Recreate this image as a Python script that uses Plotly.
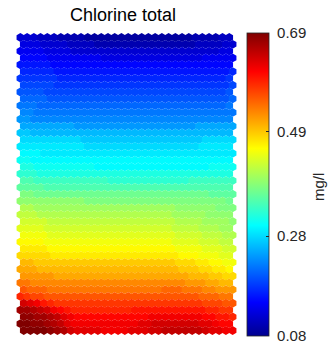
import plotly.graph_objects as go

# Component plane of a hexagonal SOM (44 rows x 32 columns), values in mg/l x 100.
# Each string is one map row, top row first.
ROWS = [
    "12 12 12 11 11 11 10 10 10 10 09 09 09 09 09 09 09 09 09 09 09 09 09 09 09 09 10 10 10 10 11 11",
    "13 13 13 12 12 12 12 11 11 11 11 10 10 10 10 10 10 10 10 10 10 10 10 10 10 10 11 11 11 11 12 12",
    "14 14 14 14 13 13 13 13 12 12 12 12 12 12 12 12 12 12 12 12 12 12 12 12 12 12 12 12 12 12 13 13",
    "15 15 15 15 14 14 14 14 14 14 14 14 13 13 13 13 13 13 13 13 13 13 13 13 13 13 13 14 14 14 14 14",
    "16 16 16 16 16 15 15 15 15 15 15 15 15 15 15 15 15 15 15 15 15 15 15 15 15 15 15 15 15 15 15 15",
    "17 17 17 17 17 16 16 16 16 16 16 16 16 16 16 16 16 16 16 16 16 16 16 16 16 16 16 16 16 16 16 17",
    "18 18 18 18 18 18 17 17 17 17 17 17 17 17 17 17 17 17 17 17 17 17 17 17 17 17 17 17 17 17 17 18",
    "19 19 19 19 19 18 18 18 18 18 18 18 18 18 18 18 18 18 18 18 18 18 18 18 18 18 18 18 18 18 18 19",
    "20 20 20 20 19 19 19 19 19 19 19 19 19 19 19 19 19 19 19 19 19 19 19 19 19 19 19 19 19 19 19 20",
    "21 21 21 21 20 20 20 20 20 20 20 20 20 20 20 20 20 20 20 20 20 20 20 20 20 20 20 20 20 20 20 21",
    "22 22 22 21 21 21 21 21 21 21 21 21 21 21 21 21 21 21 21 21 21 21 21 21 21 21 21 21 21 21 21 22",
    "23 23 22 22 22 22 22 22 22 22 22 22 22 22 22 22 22 22 22 22 22 22 22 22 22 22 22 22 22 22 22 22",
    "24 24 23 23 23 23 23 23 23 23 23 23 23 23 23 23 23 23 23 23 23 23 23 23 23 23 23 23 23 23 23 23",
    "25 25 25 25 25 25 25 25 24 24 24 24 24 24 24 24 24 24 24 24 24 24 24 24 24 24 25 25 25 25 25 25",
    "27 27 26 26 26 26 26 26 26 26 26 26 26 26 26 26 26 26 26 26 26 26 26 26 26 26 26 26 26 26 26 26",
    "28 28 28 28 28 28 28 28 28 27 27 27 27 27 27 27 27 27 27 27 27 27 27 27 27 27 27 28 28 28 28 28",
    "29 29 29 29 29 29 29 29 29 29 28 28 28 28 28 28 28 28 28 28 28 28 28 28 28 28 28 29 29 29 29 29",
    "30 30 30 29 29 29 29 29 29 29 29 29 29 29 29 29 29 29 29 29 29 29 29 29 29 29 29 29 29 29 29 29",
    "31 31 30 30 30 30 30 30 30 30 30 30 30 30 30 30 30 30 30 30 30 30 30 30 30 30 30 30 30 30 30 30",
    "32 32 31 31 31 31 31 31 31 31 31 30 30 30 30 30 30 30 30 30 30 30 30 30 30 30 30 30 31 31 31 31",
    "33 33 33 32 32 32 32 32 32 32 32 32 32 32 32 32 32 32 32 32 32 32 32 32 32 32 32 32 32 32 32 32",
    "35 35 34 34 34 34 34 34 34 34 34 34 34 33 33 33 33 33 33 33 33 33 33 33 33 34 34 34 34 34 34 34",
    "36 36 36 36 35 35 35 35 35 35 35 35 35 35 35 35 35 35 35 35 35 35 35 35 35 35 35 35 35 35 35 35",
    "38 38 37 37 37 37 37 37 37 37 37 37 37 37 37 37 37 37 37 37 37 37 37 37 37 37 37 37 36 36 36 36",
    "39 39 39 39 39 39 39 39 39 39 38 38 38 38 38 38 38 38 38 38 38 38 38 38 38 38 38 38 38 38 38 37",
    "41 41 40 40 40 40 40 40 40 40 40 40 40 40 40 40 40 40 40 40 40 40 40 39 39 39 39 39 39 38 38 38",
    "42 42 42 41 41 41 41 41 41 41 41 41 41 41 41 41 41 41 41 41 41 41 41 40 40 40 40 40 39 39 39 39",
    "43 43 43 43 42 42 42 42 42 42 42 42 42 42 42 42 42 42 42 42 42 42 42 41 41 41 41 40 40 40 40 39",
    "44 44 44 44 43 43 43 43 43 43 43 43 43 43 43 43 43 43 43 43 43 43 43 42 42 42 42 41 41 41 40 40",
    "45 45 45 45 44 44 44 44 44 44 44 44 44 44 44 44 44 44 44 44 44 44 44 43 43 43 43 42 42 42 41 41",
    "46 46 46 46 45 45 45 45 45 45 45 45 45 45 45 45 45 45 45 45 45 45 45 44 44 44 44 43 43 43 42 42",
    "47 47 47 47 46 46 46 46 46 46 46 46 46 46 46 46 46 46 46 46 46 46 46 45 45 45 45 44 44 44 43 43",
    "48 48 48 48 48 47 47 47 47 47 47 47 47 47 47 47 47 47 47 47 47 47 47 47 46 46 46 45 45 45 44 44",
    "50 50 49 49 49 49 49 49 49 49 49 49 49 49 49 49 49 49 49 49 49 49 49 48 48 48 47 47 46 46 45 45",
    "51 51 51 50 50 50 50 50 50 50 50 50 50 50 50 50 50 50 50 50 50 50 50 50 49 49 49 48 48 47 47 46",
    "52 52 52 52 52 51 51 51 51 51 51 51 51 51 51 51 51 51 51 51 51 51 51 51 51 50 50 50 49 49 48 48",
    "54 54 53 53 53 53 53 53 53 53 53 53 53 53 53 53 53 53 53 53 53 53 53 53 53 52 52 52 51 51 50 50",
    "56 55 55 55 54 54 54 54 54 54 54 54 54 54 54 54 54 54 54 54 54 55 55 55 54 54 54 53 53 52 52 52",
    "59 58 57 57 56 56 56 56 56 56 56 56 56 56 56 56 56 56 56 56 56 56 56 56 56 56 56 55 55 55 54 54",
    "64 63 62 60 59 58 58 58 58 58 58 58 58 58 58 58 58 58 58 58 58 58 58 58 58 58 58 57 57 57 56 56",
    "67 67 66 65 64 62 61 60 59 59 59 59 59 59 59 59 59 60 60 60 60 60 60 60 60 60 60 60 59 59 58 58",
    "68 68 67 67 66 65 63 62 61 61 61 61 61 61 61 61 61 61 61 62 62 62 62 62 62 62 62 61 61 60 60 59",
    "69 69 68 68 67 66 65 63 62 62 62 62 62 62 62 62 62 62 63 63 64 64 64 64 64 64 64 63 63 62 61 61",
    "69 69 69 69 68 67 66 64 63 63 63 63 62 62 62 62 63 63 63 64 64 65 65 65 65 65 65 64 63 63 62 62",
]

COLORBAR_TICKS = [0.08, 0.28, 0.49, 0.69]
COLORBAR_LABELS = ["0.08", "0.28", "0.49", "0.69"]
TITLE = "Chlorine total"
UNIT = "mg/l"

FONT = "Liberation Sans, Arial, sans-serif"
TEXT_GREY = "#262626"

# MATLAB-style jet colormap
JET = [
    [0.0, "rgb(0,0,143)"],
    [0.111, "rgb(0,0,255)"],
    [0.365, "rgb(0,255,255)"],
    [0.619, "rgb(255,255,0)"],
    [0.873, "rgb(255,0,0)"],
    [1.0, "rgb(128,0,0)"],
]

# hexagonal lattice: odd rows shifted right by half a unit
xs, ys, zs = [], [], []
for r, line in enumerate(ROWS):
    for c, tok in enumerate(line.split()):
        xs.append(c + 0.5 * (r % 2))
        ys.append(r)
        zs.append(int(tok) / 100.0)

n_rows = len(ROWS)
n_cols = len(ROWS[0].split())

# plot area geometry in pixels
FIG_W, FIG_H = 328, 348
M_L, M_R, M_T, M_B = 17, 92, 33, 13
PLOT_W = FIG_W - M_L - M_R

fig = go.Figure(
    go.Scatter(
        x=xs,
        y=ys,
        mode="markers",
        cliponaxis=False,
        hoverinfo="skip",
        marker=dict(
            symbol="hexagon",
            size=8.8,
            color=zs,
            colorscale=JET,
            cmin=0.08,
            cmax=0.69,
            line=dict(width=0),
            colorbar=dict(
                x=(247 - M_L) / PLOT_W,
                xanchor="left",
                xpad=0,
                y=0.5,
                yanchor="middle",
                ypad=0,
                thickness=22,
                lenmode="pixels",
                len=303,
                outlinewidth=0.8,
                outlinecolor=TEXT_GREY,
                tickvals=COLORBAR_TICKS,
                ticktext=["\u00a0" + t for t in COLORBAR_LABELS],
                ticks="inside",
                ticklen=3,
                tickwidth=0.8,
                tickcolor=TEXT_GREY,
                tickfont=dict(family=FONT, size=15, color=TEXT_GREY),
            ),
        ),
    )
)

# colour bar unit label, rotated
fig.add_annotation(
    text=UNIT,
    xref="paper",
    yref="paper",
    x=(318 - M_L) / PLOT_W,
    y=0.49,
    xanchor="center",
    yanchor="middle",
    textangle=-90,
    showarrow=False,
    font=dict(family=FONT, size=15, color=TEXT_GREY),
)

fig.update_layout(
    width=FIG_W,
    height=FIG_H,
    margin=dict(l=M_L, r=M_R, t=M_T, b=M_B),
    paper_bgcolor="white",
    plot_bgcolor="white",
    showlegend=False,
    title=dict(
        text=TITLE,
        x=123 / FIG_W,
        xanchor="center",
        y=1 - 14.5 / FIG_H,
        yanchor="middle",
        font=dict(family=FONT, size=18, color="#000000"),
    ),
    xaxis=dict(range=[-0.5, n_cols], visible=False, fixedrange=True),
    yaxis=dict(range=[n_rows - 1 + 0.66, -0.66], visible=False, fixedrange=True),
)

fig.write_html("out.html")
